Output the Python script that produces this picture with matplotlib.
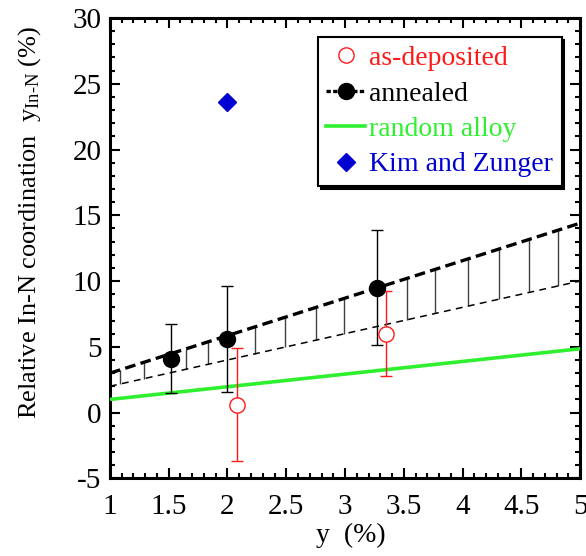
import numpy as np
import matplotlib
matplotlib.use("Agg")
import matplotlib.pyplot as plt
from matplotlib.lines import Line2D
from matplotlib.ticker import MultipleLocator

plt.rcParams['font.family'] = ['Liberation Serif', 'DejaVu Serif']
plt.rcParams['mathtext.fontset'] = 'custom'
plt.rcParams['mathtext.rm'] = 'Liberation Serif'
plt.rcParams['mathtext.it'] = 'Liberation Serif:italic'
plt.rcParams['axes.unicode_minus'] = False

# Measured relative In-N coordination
annealed_x = [1.52, 2.00, 3.27]
annealed_y = [4.1, 5.6, 9.5]
annealed_err = [2.6, 4.0, 4.35]

deposited_x = [2.08, 3.35]
deposited_y = [0.6, 6.0]
deposited_err = [4.3, 3.25]

# Theory
kim_x = [2.0]
kim_y = [23.6]

random_x = [1.0, 5.0]
random_y = [1.0, 4.85]

# Band bounded by the two dashed trend lines
band_x = [1.0, 5.0]
band_upper = [3.0, 14.4]
band_lower = [2.0, 10.0]
hatch_x = [1.085, 1.29, 1.65, 1.83, 2.23, 2.49, 2.75, 2.99,
           3.53, 3.77, 4.05, 4.31, 4.57, 4.815]

x_ticks = [1, 1.5, 2, 2.5, 3, 3.5, 4, 4.5, 5]
x_ticklabels = ['1', '1.5', '2', '2.5', '3', '3.5', '4', '4.5', '5']
y_ticks = [-5, 0, 5, 10, 15, 20, 25, 30]
y_ticklabels = ['-5', '0', '5', '10', '15', '20', '25', '30']

RED = '#ff1a1a'
GREEN = '#2ff02f'
BLUE = '#0000d0'

fig = plt.figure(figsize=(5.86, 5.56), dpi=100)
ax = fig.add_axes([0.1877, 0.1397, 0.8021, 0.8279])

# hatching between the two dashed lines
h_lo = np.interp(hatch_x, band_x, band_lower)
h_hi = np.interp(hatch_x, band_x, band_upper)
ax.vlines(hatch_x, h_lo, h_hi, colors='0.25', lw=1.0, zorder=2)

ax.plot(band_x, band_upper, color='black', lw=2.4, ls=(0, (3.2, 1.6)), zorder=3)
ax.plot(band_x, band_lower, color='black', lw=1.1, ls=(0, (4.5, 3.5)), zorder=3)
ax.plot(random_x, random_y, color=GREEN, lw=2.6, zorder=3, solid_capstyle='butt')

ax.errorbar(deposited_x, deposited_y, yerr=deposited_err, fmt='none',
            ecolor=RED, elinewidth=1.0, capsize=4.3, capthick=1.0, zorder=4)
ax.plot(deposited_x, deposited_y, 'o', ms=11, mfc='white', mec=RED, mew=1.0, zorder=5)

ax.errorbar(annealed_x, annealed_y, yerr=annealed_err, fmt='none',
            ecolor='black', elinewidth=1.0, capsize=4.3, capthick=1.0, zorder=4)
ax.plot(annealed_x, annealed_y, 'o', ms=11.5, color='black', zorder=6)

ax.plot(kim_x, kim_y, 'D', ms=9.5, color=BLUE, zorder=6)

ax.set_xlim(1, 5)
ax.set_ylim(-5, 30)
ax.set_xticks(x_ticks)
ax.set_xticklabels(x_ticklabels)
ax.set_yticks(y_ticks)
ax.set_yticklabels(y_ticklabels)
ax.xaxis.set_minor_locator(MultipleLocator(0.1))
ax.yaxis.set_minor_locator(MultipleLocator(1))
ax.tick_params(which='both', direction='in', top=True, right=True, width=1.5)
ax.tick_params(which='major', length=7.5, labelsize=21)
ax.tick_params(axis='x', which='major', pad=11)
ax.tick_params(axis='y', which='major', pad=6)
ax.tick_params(which='minor', length=3.8)
for s in ax.spines.values():
    s.set_linewidth(2.2)

ax.set_xlabel('y  (%)', fontsize=20)
ax.xaxis.set_label_coords(0.513, -0.097)
ax.set_ylabel(r'Relative In-N coordination  y$_{\text{In-N}}$ (%)', fontsize=19)
ax.yaxis.set_label_coords(-0.143, 0.557)

handles = [
    Line2D([], [], ls='none', marker='o', ms=11, mfc='white', mec=RED, mew=1.0),
    Line2D([], [], color='black', lw=2.4, ls=(0, (1.3, 0.7)), marker='o', ms=11.5),
    Line2D([], [], color=GREEN, lw=2.6),
    Line2D([], [], ls='none', marker='D', ms=9.5, color=BLUE),
]
labels = ['as-deposited', 'annealed', 'random alloy', 'Kim and Zunger']
leg = ax.legend(handles, labels, loc='upper right', bbox_to_anchor=(0.961, 0.958),
                borderaxespad=0, fontsize=20, frameon=True, fancybox=False,
                shadow={'color': 'black', 'alpha': 1.0},
                handlelength=1.4, handletextpad=0.15, borderpad=0.3,
                labelspacing=0.36, framealpha=1.0)
leg.get_frame().set_edgecolor('black')
leg.get_frame().set_linewidth(1.5)
for t, c in zip(leg.get_texts(), [RED, 'black', GREEN, BLUE]):
    t.set_color(c)
leg.set_zorder(10)

fig.savefig('out.png', dpi=100)
